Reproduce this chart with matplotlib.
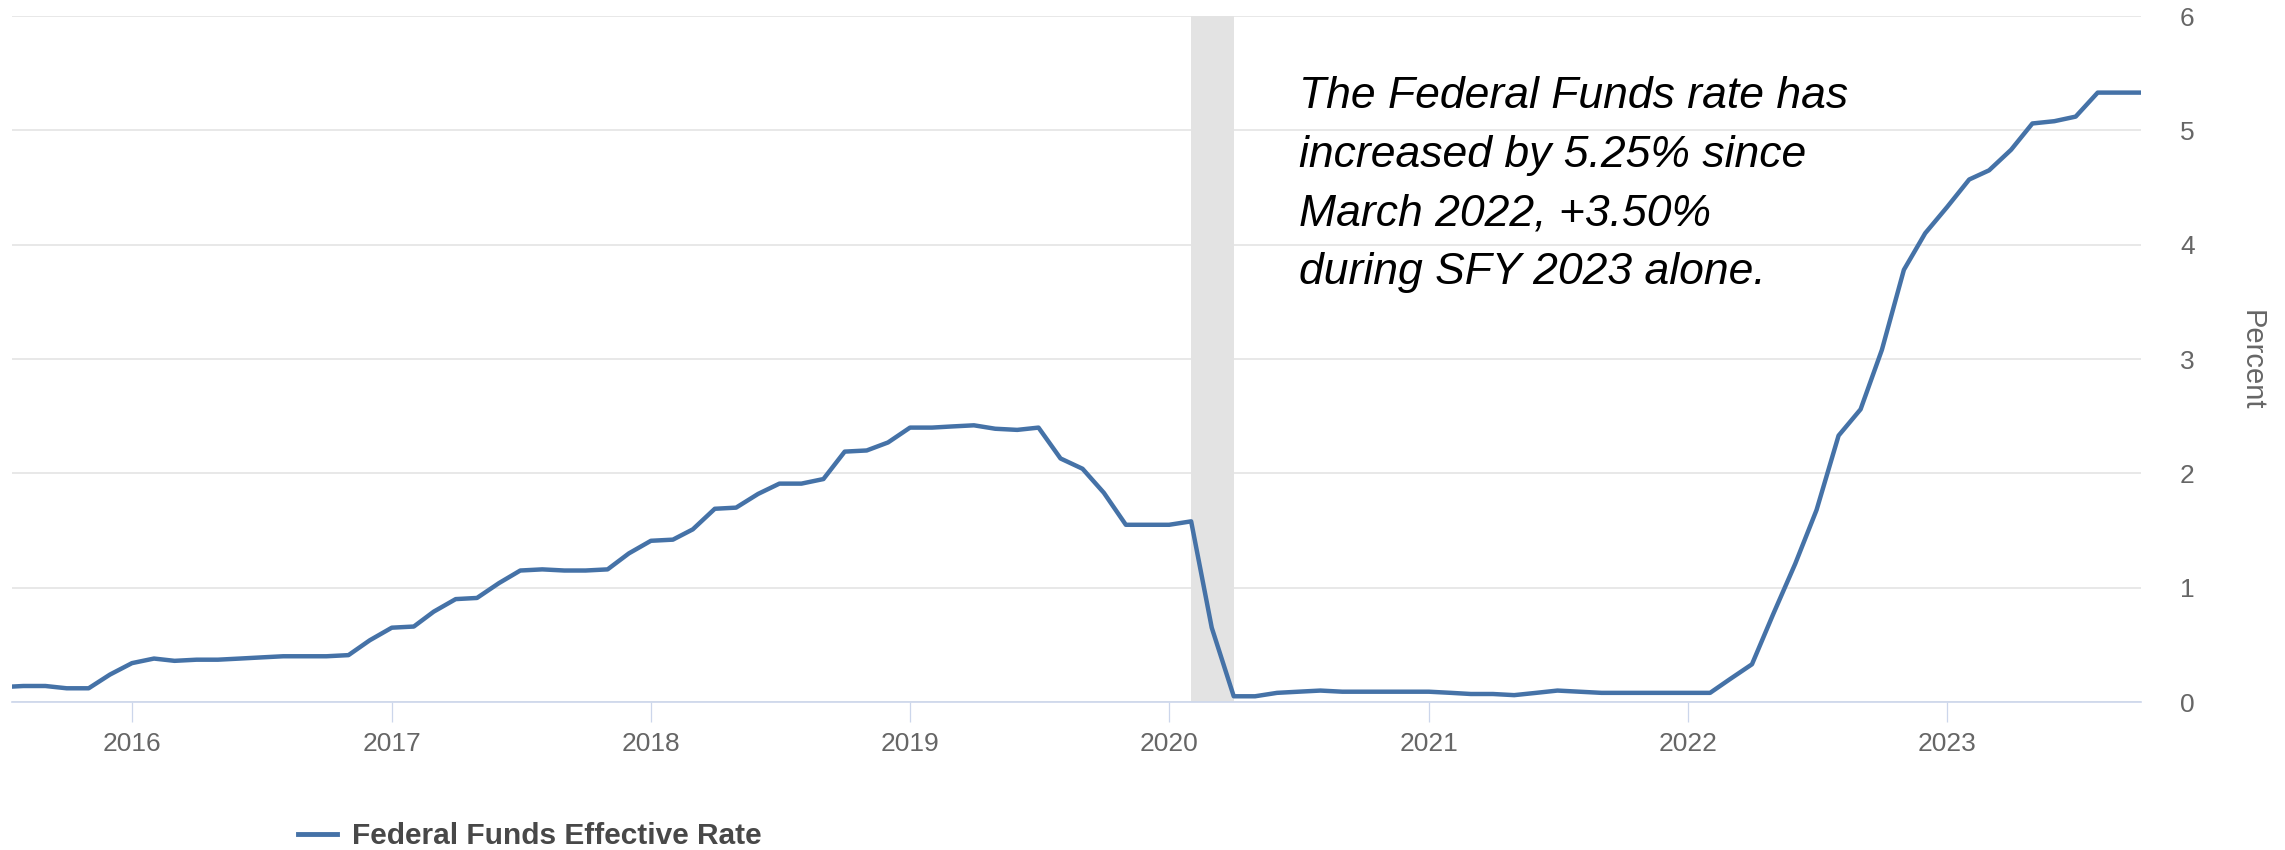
import matplotlib
matplotlib.use('Agg')
import matplotlib.pyplot as plt
import pandas as pd
from matplotlib.lines import Line2D

# ---------------- data ----------------
start_month = '2015-07-01'
rate = [
    0.13, 0.14, 0.14, 0.12, 0.12, 0.24,                                   # 2015 Jul-Dec
    0.34, 0.38, 0.36, 0.37, 0.37, 0.38, 0.39, 0.40, 0.40, 0.40, 0.41, 0.54,  # 2016
    0.65, 0.66, 0.79, 0.90, 0.91, 1.04, 1.15, 1.16, 1.15, 1.15, 1.16, 1.30,  # 2017
    1.41, 1.42, 1.51, 1.69, 1.70, 1.82, 1.91, 1.91, 1.95, 2.19, 2.20, 2.27,  # 2018
    2.40, 2.40, 2.41, 2.42, 2.39, 2.38, 2.40, 2.13, 2.04, 1.83, 1.55, 1.55,  # 2019
    1.55, 1.58, 0.65, 0.05, 0.05, 0.08, 0.09, 0.10, 0.09, 0.09, 0.09, 0.09,  # 2020
    0.09, 0.08, 0.07, 0.07, 0.06, 0.08, 0.10, 0.09, 0.08, 0.08, 0.08, 0.08,  # 2021
    0.08, 0.08, 0.20, 0.33, 0.77, 1.21, 1.68, 2.33, 2.56, 3.08, 3.78, 4.10,  # 2022
    4.33, 4.57, 4.65, 4.83, 5.06, 5.08, 5.12, 5.33, 5.33, 5.33,              # 2023 Jan-Oct
]
year_labels = ['2016', '2017', '2018', '2019', '2020', '2021', '2022', '2023']
y_ticks = [0, 1, 2, 3, 4, 5, 6]
recession_start = '2020-02-01'
recession_end = '2020-04-01'
series_name = 'Federal Funds Effective Rate'
y_label = 'Percent'
note = ("The Federal Funds rate has\n"
        "increased by 5.25% since\n"
        "March 2022, +3.50%\n"
        "during SFY 2023 alone.")

months = pd.date_range(start_month, periods=len(rate), freq='MS')
year_ticks = pd.to_datetime([f'{y}-01-01' for y in year_labels])

# ---------------- figure ----------------
W, H = 2285, 850
fig = plt.figure(figsize=(W / 100, H / 100), dpi=100)
fig.patch.set_facecolor('white')

left_px, right_px, top_px, bot_px = 12, 2141, 16, 702
ax = fig.add_axes([left_px / W, 1 - bot_px / H,
                   (right_px - left_px) / W, (bot_px - top_px) / H])

line_color = '#4572A7'
grid_color = '#e6e6e6'
axis_color = '#ccd6eb'
label_color = '#666666'
fam = ['Liberation Sans', 'DejaVu Sans']

ax.plot(months, rate, color=line_color, lw=3.2, solid_joinstyle='round',
        zorder=3, clip_on=True)
ax.axvspan(pd.Timestamp(recession_start), pd.Timestamp(recession_end),
           color='#e3e3e3', lw=0, zorder=1.5)

ax.set_xlim(pd.Timestamp('2015-07-16'), months[-1])
ax.set_ylim(0, 6)

ax.set_yticks(y_ticks)
ax.set_yticklabels([str(v) for v in y_ticks])
ax.yaxis.tick_right()
ax.tick_params(axis='y', length=0, pad=28, labelsize=19, labelcolor=label_color)
ax.yaxis.grid(True, color=grid_color, lw=1.3, zorder=1)
ax.set_axisbelow(True)

ax.set_xticks(year_ticks)
ax.set_xticklabels(year_labels)
ax.tick_params(axis='x', length=14.5, width=0.9, color=axis_color, pad=7,
               labelsize=19, labelcolor=label_color)

for s in ['top', 'left', 'right']:
    ax.spines[s].set_visible(False)
ax.spines['bottom'].set_color(axis_color)
ax.spines['bottom'].set_linewidth(1.2)

ax.yaxis.set_label_position('right')
ax.set_ylabel(y_label, rotation=-90, fontsize=21, color=label_color,
              va='center', ha='center')
ax.yaxis.set_label_coords((2252 - left_px) / (right_px - left_px),
                          (bot_px - 360) / (bot_px - top_px))

for lab in ax.get_xticklabels() + ax.get_yticklabels():
    lab.set_family(fam)
ax.yaxis.label.set_family(fam)

# annotation (anchored at the baseline of its last line)
fig.text(1299 / W, 1 - 284 / H, note, fontsize=32, style='italic',
         family=fam, color='black',
         va='baseline', ha='left', linespacing=1.55)

# legend
handle = Line2D([], [], color=line_color, lw=3.5)
fig.legend(handles=[handle], labels=[series_name], loc='center left',
           bbox_to_anchor=(298 / W, 1 - 836 / H), frameon=False,
           borderpad=0, borderaxespad=0, handlelength=1.3, handletextpad=0.5,
           prop={'family': fam, 'weight': 'bold', 'size': 21.5},
           labelcolor='#484848')

fig.savefig('out.png', dpi=100, facecolor='white')
